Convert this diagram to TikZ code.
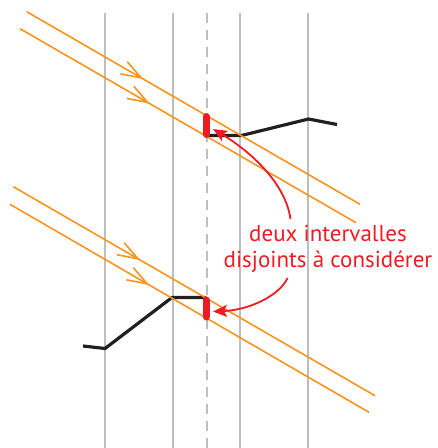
\documentclass[tikz,border=0pt]{standalone}
\usepackage{fontspec}
\setmainfont{PT Sans}
\usetikzlibrary{arrows.meta,decorations.markings}
\definecolor{RayOrange}{HTML}{F7941D}
\definecolor{MarkRed}{HTML}{ED1C24}
\definecolor{GridGrey}{HTML}{BCBEC0}
\definecolor{PathInk}{HTML}{231F20}
\tikzset{
  every node/.style={text=MarkRed},
  gridline/.style={draw=GridGrey, line width=1.6pt},
  axisline/.style={gridline, dash pattern=on 10pt off 7pt},
  ray/.style={draw=RayOrange, line width=1.6pt},
  raytip/.style={postaction={decorate}, decoration={markings,
      mark=at position #1 with {\arrow[line width=1.6pt]{Straight Barb[length=20pt,width=14pt]}}}},
  profile/.style={draw=PathInk, line width=3.2pt},
  interval/.style={draw=MarkRed, line width=7pt, line cap=round},
  pointer/.style={-{Stealth[length=14pt,width=12pt,inset=3pt]}, draw=MarkRed, line width=1.8pt},
}
\begin{document}
\begin{tikzpicture}[x=1pt,y=-1pt]
  \useasboundingbox (0,0) rectangle (438,448);
  % vertical grid, the dashed one is the axis
  \foreach \x in {105,173,240,308}
    \draw[gridline] (\x,13) -- (\x,448);
  \draw[axisline] (207,13) -- (207,448);
  % profiles
  \draw[profile] (208,135.5) -- (241.5,135.5) -- (308.5,119) -- (337,124.5);
  \draw[profile] (83,346) -- (105,348.5) -- (172,297.5) -- (206,297.5);
  % upper pair of rays
  \draw[ray, raytip=134.6pt] (26.7,11.7) -- (360,204.3);
  \draw[ray, raytip=149.8pt] (20,28.7) -- (356,222.7);
  % lower pair of rays
  \draw[ray, raytip=146.4pt] (13.3,186.7) -- (375,395.7);
  \draw[ray, raytip=161pt] (10,204.3) -- (369,412.3);
  % the two intervals
  \draw[interval] (206,116.5) coordinate (topA) -- (206,134.5) coordinate (topB);
  \draw[interval] (206,300) coordinate (botA) -- (206,317) coordinate (botB);
  \coordinate (topmark) at (213,129);
  \coordinate (botmark) at (213,311.5);
  % caption and pointers
  \node[font=\fontsize{23}{25.5}\selectfont, align=center] (caption) at (328,249)
    {deux intervalles\\disjoints à considérer};
  \coordinate (fromtop) at (290.5,219);
  \coordinate (frombot) at (287.5,278);
  \draw[pointer] (fromtop) .. controls (285,180) and (245,148) .. (topmark);
  \draw[pointer] (frombot) .. controls (280,295) and (250,310) .. (botmark);
\end{tikzpicture}
\end{document}
